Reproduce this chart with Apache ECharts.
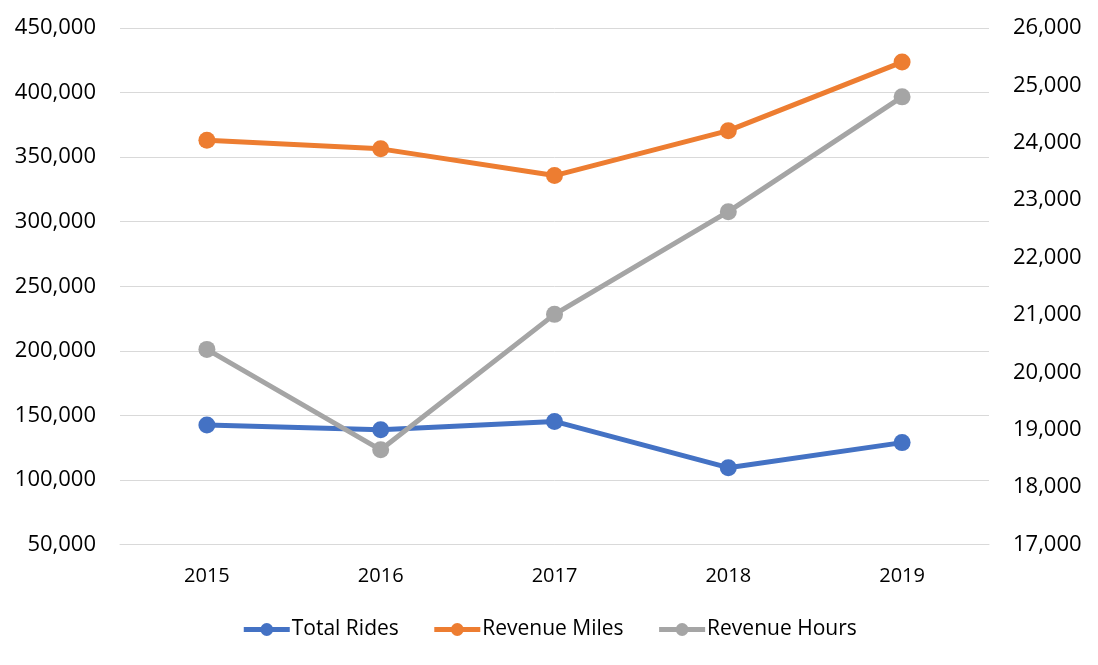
<!DOCTYPE html>
<html>
<head>
<meta charset="utf-8">
<script src="https://cdn.jsdelivr.net/npm/echarts@6/dist/echarts.min.js"></script>
<style>
html,body{margin:0;padding:0;background:#fff;}
#chart{width:1098px;height:665px;}
</style>
</head>
<body>
<div id="chart"></div>
<script>
const years = ['2015', '2016', '2017', '2018', '2019'];
const totalRides = [142600, 138800, 145300, 109500, 128900];
const revenueMiles = [363000, 356400, 335700, 370500, 423600];
const revenueHours = [20400, 18650, 21010, 22800, 24800];

const FONT = '"Open Sans", "Liberation Sans", sans-serif';
const chart = echarts.init(document.getElementById('chart'), null, {renderer: 'canvas'});

function lineSeries(name, data, color, axisIndex) {
  return {
    name: name,
    type: 'line',
    yAxisIndex: axisIndex,
    data: data,
    symbol: 'circle',
    symbolSize: 17,
    lineStyle: {color: color, width: 5},
    itemStyle: {color: color},
    emphasis: {disabled: true},
    animation: false
  };
}

chart.setOption({
  backgroundColor: '#ffffff',
  animation: false,
  textStyle: {fontFamily: FONT},
  grid: {left: 120, right: 109, top: 28, bottom: 120.5, containLabel: false},
  legend: {
    bottom: 20,
    left: 'center',
    itemWidth: 46,
    itemHeight: 16,
    itemGap: 33,
    lineStyle: {width: 5},
    textStyle: {fontFamily: FONT, fontSize: 21, color: '#000', padding: [0, 0, 0, -3]},
    data: ['Total Rides', 'Revenue Miles', 'Revenue Hours']
  },
  xAxis: {
    type: 'category',
    data: years,
    boundaryGap: true,
    axisLine: {show: true, lineStyle: {color: '#D9D9D9', width: 1}},
    axisTick: {show: false},
    axisLabel: {fontFamily: FONT, fontSize: 20, color: '#000', margin: 22}
  },
  yAxis: [
    {
      type: 'value',
      min: 50000,
      max: 450000,
      interval: 50000,
      axisLine: {show: false},
      axisTick: {show: false},
      splitLine: {show: true, lineStyle: {color: '#D9D9D9', width: 1}},
      axisLabel: {
        fontFamily: FONT, fontSize: 22, color: '#000', margin: 24,
        formatter: v => v.toLocaleString('en-US')
      }
    },
    {
      type: 'value',
      min: 17000,
      max: 26000,
      interval: 1000,
      position: 'right',
      axisLine: {show: false},
      axisTick: {show: false},
      splitLine: {show: false},
      axisLabel: {
        fontFamily: FONT, fontSize: 22, color: '#000', margin: 24,
        formatter: v => v.toLocaleString('en-US')
      }
    }
  ],
  series: [
    lineSeries('Total Rides', totalRides, '#4472C4', 0),
    lineSeries('Revenue Miles', revenueMiles, '#ED7D31', 0),
    lineSeries('Revenue Hours', revenueHours, '#A5A5A5', 1)
  ]
});
</script>
</body>
</html>
